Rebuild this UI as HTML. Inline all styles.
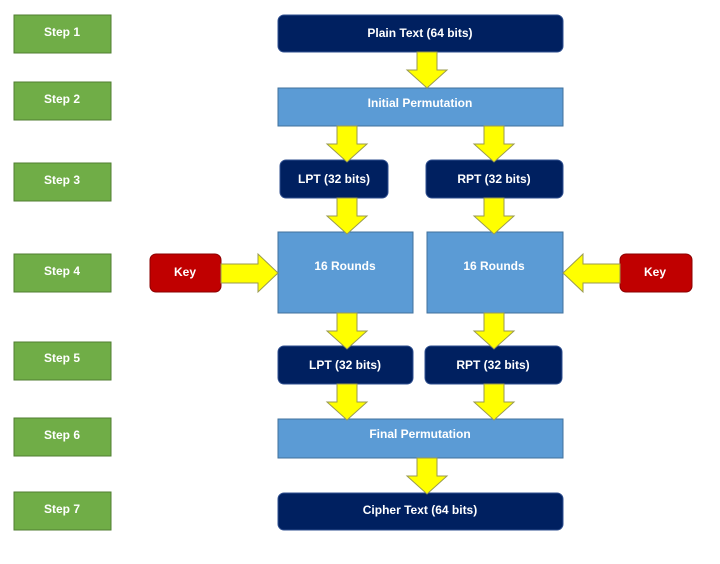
<!DOCTYPE html>
<html><head><style>body{margin:0;background:#fff}svg{display:block}text{font-family:"Liberation Sans",sans-serif;font-weight:bold;font-size:12px;fill:#fff;text-anchor:middle;dominant-baseline:central}</style></head>
<body>
<svg width="720" height="564" viewBox="0 0 720 564">
<defs>
<g id="d"><polygon points="-10,0 10,0 10,18 20,18 0,36 -20,18 -10,18" fill="#ffff00" stroke="#9a9a50" stroke-width="1"/></g>
</defs>
<g fill="#70ad47" stroke="#507e32" stroke-width="1">
<rect x="14" y="15" width="97" height="38"/><rect x="14" y="82" width="97" height="38"/>
<rect x="14" y="163" width="97" height="38"/><rect x="14" y="254" width="97" height="38"/>
<rect x="14" y="342" width="97" height="38"/><rect x="14" y="418" width="97" height="38"/>
<rect x="14" y="492" width="97" height="38"/>
</g>
<text x="62" y="32">Step 1</text><text x="62" y="99">Step 2</text><text x="62" y="180">Step 3</text>
<text x="62" y="271">Step 4</text><text x="62" y="358">Step 5</text><text x="62" y="435">Step 6</text><text x="62" y="509">Step 7</text>
<g fill="#002060" stroke="#2f4f8f" stroke-width="1">
<rect x="278" y="15" width="285" height="37" rx="6"/>
<rect x="280" y="160" width="108" height="38" rx="6"/>
<rect x="426" y="160" width="137" height="38" rx="6"/>
<rect x="278" y="346" width="135" height="38" rx="6"/>
<rect x="425" y="346" width="137" height="38" rx="6"/>
<rect x="278" y="493" width="285" height="37" rx="6"/>
</g>
<g fill="#5b9bd5" stroke="#41719c" stroke-width="1">
<rect x="278" y="88" width="285" height="38"/>
<rect x="278" y="232" width="135" height="81"/>
<rect x="427" y="232" width="136" height="81"/>
<rect x="278" y="419" width="285" height="39"/>
</g>
<g fill="#c00000" stroke="#8b0000" stroke-width="1">
<rect x="150" y="254" width="71" height="38" rx="6"/>
<rect x="620" y="254" width="72" height="38" rx="6"/>
</g>
<use href="#d" x="427" y="52"/>
<use href="#d" x="347" y="126"/><use href="#d" x="494" y="126"/>
<use href="#d" x="347" y="198"/><use href="#d" x="494" y="198"/>
<use href="#d" x="347" y="313"/><use href="#d" x="494" y="313"/>
<use href="#d" x="347" y="384"/><use href="#d" x="494" y="384"/>
<use href="#d" x="427" y="458"/>
<polygon points="221,264 258,264 258,254 278,273 258,292 258,283 221,283" fill="#ffff00" stroke="#9a9a50"/>
<polygon points="620,264 583,264 583,254 563,273 583,292 583,283 620,283" fill="#ffff00" stroke="#9a9a50"/>
<text x="420" y="33">Plain Text (64 bits)</text>
<text x="420" y="103">Initial Permutation</text>
<text x="334" y="179">LPT (32 bits)</text>
<text x="494" y="179">RPT (32 bits)</text>
<text x="345" y="266">16 Rounds</text>
<text x="494" y="266">16 Rounds</text>
<text x="185" y="272">Key</text>
<text x="655" y="272">Key</text>
<text x="345" y="365">LPT (32 bits)</text>
<text x="493" y="365">RPT (32 bits)</text>
<text x="420" y="434">Final Permutation</text>
<text x="420" y="510">Cipher Text (64 bits)</text>
</svg>
</body></html>
